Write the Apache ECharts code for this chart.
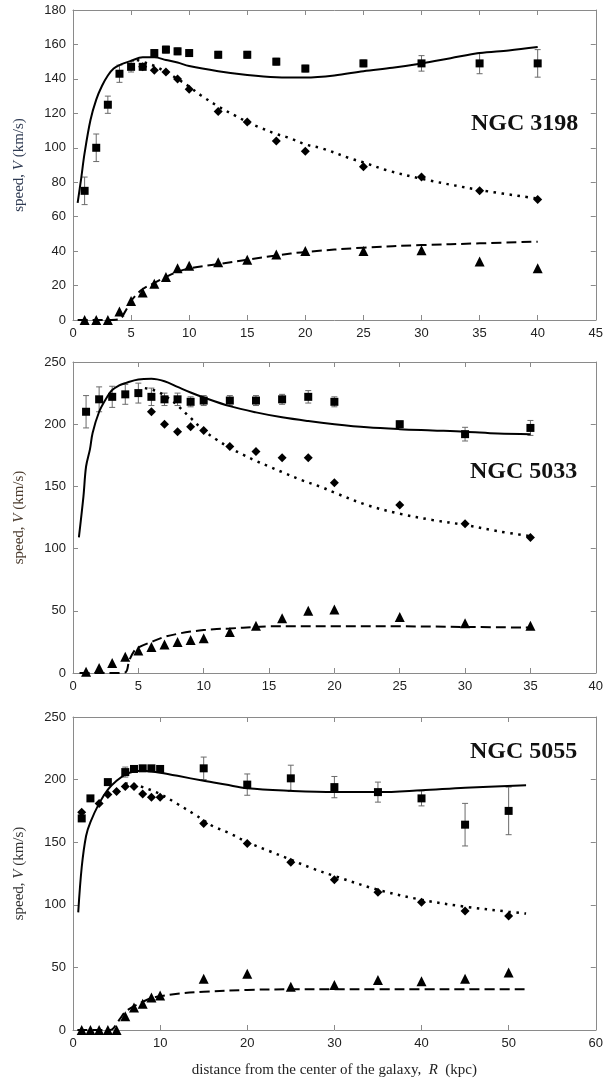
<!DOCTYPE html>
<html>
<head>
<meta charset="utf-8">
<script src="https://cdn.jsdelivr.net/npm/echarts@6/dist/echarts.min.js"></script>
<style>html,body{margin:0;padding:0;background:#fff}#c{width:606px;height:1092px}</style>
</head>
<body>
<div id="c"></div>
<script>
// ---------- NGC 3198 ----------
const obsR1 = [1,2,3,4,5,6,7,8,9,10,12.5,15,17.5,20,25,30,35,40];
const obsV1 = [75,100,125,143,147,147,155,157,156,155,154,154,150,146,149,149,149,149];
const obsE1 = [8,8,5,5,3,0,2,2,2,2,2,2,2,2,2,4.5,6,8];
const diamR1 = [6,7,8,9,10,12.5,15,17.5,20,25,30,35,40];
const diamV1 = [147,145,144,140,134,121,115,104,98,89,83,75,70];
const triR1 = [1,2,3,4,5,6,7,8,9,10,12.5,15,17.5,20,25,30,35,40];
const triV1 = [0,0,0,5,11,16,21,25,30,31.5,33.5,35,38,40,40,40.5,34,30];
const totR1 = [0.4,0.7,1,1.5,2,2.5,3,3.5,4,5,6,7,8,9,10,12.5,15,17.5,20,22.5,25,27.5,30,32.5,35,37.5,40];
const totV1 = [68,82,97,116,128,136,142,146,148,150.5,152.5,152.5,151,149.5,147.5,144.5,142.3,141,140.8,142,144.5,146.5,149,152,155,156.5,158.5];
const diskR1 = [5.5,6,7,8,9,10,11,12.5,14,15,16,17.5,18.5,20,21.5,24,25,27,30,35,40];
const diskV1 = [151,150,147.5,144,140,135.5,130.5,124,118.5,115,112,108,106,102,99.5,93.5,91.5,87,82,75.5,70.5];
const gasR1 = [0.4,1,2,3,4,4.5,5,5.5,6,7,8,9,10,12.5,15,17.5,20,25,30,35,40];
const gasV1 = [0,0,0,0,0.5,5,11,15,18,21.5,25,28,30,32.5,35,37.5,39.5,42,43.5,44.5,45.5];

// ---------- NGC 5033 ----------
const obsR2 = [1,2,3,4,5,6,7,8,9,10,12,14,16,18,20,25,30,35];
const obsV2 = [210,220,222,224,225,222,220,220,218,219,219,219,220,222,218,200,192,197];
const obsE2 = [13,10,8.5,8,8,7,5,5,4,4,4,4,4,5,4,2.5,5.5,6];
const diamR2 = [6,7,8,9,10,12,14,16,18,20,25,30,35];
const diamV2 = [210,200,194,198,195,182,178,173,173,153,135,120,109];
const triR2 = [1,2,3,4,5,6,7,8,9,10,12,14,16,18,20,25,30,35];
const triV2 = [1,4,8,13,18,21,23,25,26.5,28,33,38,44,50,51,45,40,38];
const totR2 = [0.45,0.8,1,1.3,1.5,2,2.5,3,3.5,4,5,6,7,8,9,10,12,14,16,18,20,22.5,25,27.5,30,32.5,35];
const totV2 = [109,142,166,180,193,210,220,227.5,231,233,236,236.5,234.5,230,225.5,221.5,214.5,209.5,205.5,202.5,200,197.5,196,195,194,192.5,192];
const diskR2 = [5.5,6,6.5,7,7.5,8,9,10,11,12,13,14,15,16,17.5,19,20,22.5,25,27.5,30,32.5,35];
const diskV2 = [229,228,226,223,219.5,215,205,195,187.5,181,175.5,170.5,166,161.5,155,149.5,145,135,128,123,119,114,110];
const gasR2 = [0.5,1,2,3,4,4.3,4.7,5,6,7,8,9,10,11,12,14,15,20,25,30,35];
const gasV2 = [0,0,0,0,0.5,10,18,20.5,25,29,31.5,33.3,34.5,35.3,35.8,37,37.5,37.5,37.5,37,36.5];

// ---------- NGC 5055 ----------
const obsR3 = [1,2,4,6,7,8,9,10,15,20,25,30,35,40,45,50];
const obsV3 = [169,185,198,206,208.5,209,209,208.5,209,196,201,194,190,185,164,175];
const obsE3 = [0,0,0,4,2,2,2,2,9,8.5,10.5,8.5,8,6,17,19];
const diamR3 = [1,3,4,5,6,7,8,9,10,15,20,25,30,35,40,45,50];
const diamV3 = [174,181,188,190.5,194.5,194.5,188.5,186,186,165,149,134,120,110,102,95,91];
const triR3 = [1,2,3,4,5,6,7,8,9,10,15,20,25,30,35,40,45,50];
const triV3 = [0,0,0,0,0,11,18,21,26,27.5,41,45,34.5,36,40,39,41,46];
const totR3 = [0.6,1,1.5,2,3,4,5,6,7,8,9,10,12,15,17.5,20,25,30,35,40,45,52];
const totV3 = [94,130,155,166,181,192,199,204,206.5,207,206.5,205.5,203,199,196,193,191,190,190,191.5,193.5,195.5];
const diskR3 = [6,7,8,9,10,12,14,15,16,18,20,22.5,25,27.5,30,35,40,45,50,52];
const diskV3 = [197,196,194,191.5,188.5,180.5,172,167.5,163,157,150,143,136,129,123,112,104,98.5,94.5,93];
const gasR3 = [0.5,1,2,3,4,4.5,5,5.5,6,7,8,9,10,12,15,20,25,30,35,40,45,52];
const gasV3 = [0,0,0,0,0,0.5,5,10,14.5,19,22.5,25.5,27,29,30.5,32,32.5,32.5,32.5,32.5,32.5,32.5];

const galaxyNames = ['NGC 3198','NGC 5033','NGC 5055'];
const xMax = [45,40,60], xStep = [5,5,10];
const yMax = [180,250,250], yStep = [20,50,50];

const zip = (a,b) => a.map((v,i)=>[v,b[i]]);
const grids = [
  {left:73, right:9, top:10, height:310},
  {left:73, right:9, top:362, height:311},
  {left:73, right:9, top:717, height:313}
];
const axisCol = '#8a8a8a';
const labelStyle = {color:'#222', fontFamily:'Arial', fontSize:13};
const yNameColors = ['#2e3a52','#4a3a2c','#333'];

const xAxes = [], yAxes = [];
grids.forEach((g,i)=>{
  xAxes.push({gridIndex:i, type:'value', min:0, max:xMax[i], interval:xStep[i], position:'bottom',
    axisLine:{show:true, onZero:false, lineStyle:{color:axisCol}},
    axisTick:{show:true, inside:true, length:5, lineStyle:{color:axisCol}},
    axisLabel:Object.assign({margin:7}, labelStyle), splitLine:{show:false},
    name: i===2 ? '{n|distance from the center of the galaxy,  }{i|R}{n|  (kpc)}' : '',
    nameLocation:'middle', nameGap:33,
    nameTextStyle:{rich:{n:{fontFamily:'Liberation Serif', fontSize:15, color:'#222'}, i:{fontFamily:'Liberation Serif', fontStyle:'italic', fontSize:15, color:'#222'}}}
  });
  xAxes.push({gridIndex:i, type:'value', min:0, max:xMax[i], interval:xStep[i], position:'top',
    axisLine:{show:true, onZero:false, lineStyle:{color:axisCol}},
    axisTick:{show:true, inside:true, length:5, lineStyle:{color:axisCol}},
    axisLabel:{show:false}, splitLine:{show:false}});
  yAxes.push({gridIndex:i, type:'value', min:0, max:yMax[i], interval:yStep[i], position:'left',
    axisLine:{show:true, onZero:false, lineStyle:{color:axisCol}},
    axisTick:{show:true, inside:true, length:5, lineStyle:{color:axisCol}},
    axisLabel:Object.assign({margin:7}, labelStyle), splitLine:{show:false},
    name:'{n|speed, }{i|V}{n| (km/s)}', nameLocation:'middle', nameGap:46, nameRotate:90,
    nameTextStyle:{rich:{n:{fontFamily:'Liberation Serif', fontSize:15, color:yNameColors[i]}, i:{fontFamily:'Liberation Serif', fontStyle:'italic', fontSize:15, color:yNameColors[i]}}}
  });
  yAxes.push({gridIndex:i, type:'value', min:0, max:yMax[i], interval:yStep[i], position:'right',
    axisLine:{show:true, onZero:false, lineStyle:{color:axisCol}},
    axisTick:{show:true, inside:true, length:5, lineStyle:{color:axisCol}},
    axisLabel:{show:false}, splitLine:{show:false}});
});

function errSeries(ai, R, V, E) {
  const data = [];
  R.forEach((r,i)=>{ if (E[i] > 0) data.push([r, V[i]-E[i], V[i]+E[i]]); });
  return {type:'custom', xAxisIndex:ai*2, yAxisIndex:ai*2, z:2, silent:true,
    data, encode:{x:0, y:[1,2]},
    renderItem:(params, api)=>{
      const lo = api.coord([api.value(0), api.value(1)]);
      const hi = api.coord([api.value(0), api.value(2)]);
      const w = 3, st = {stroke:'#6a6a6a', lineWidth:1};
      return {type:'group', children:[
        {type:'line', shape:{x1:lo[0], y1:lo[1], x2:hi[0], y2:hi[1]}, style:st},
        {type:'line', shape:{x1:lo[0]-w, y1:lo[1], x2:lo[0]+w, y2:lo[1]}, style:st},
        {type:'line', shape:{x1:hi[0]-w, y1:hi[1], x2:hi[0]+w, y2:hi[1]}, style:st}
      ]};
    }};
}
function lineSeries(ai, R, V, type, width) {
  return {type:'line', xAxisIndex:ai*2, yAxisIndex:ai*2, data:zip(R,V), showSymbol:false, symbol:'none',
    smooth:0.35, z:3, lineStyle:{color:'#000', width:width, type:type}};
}
function scatter(ai, R, V, symbol, size) {
  return {type:'scatter', xAxisIndex:ai*2, yAxisIndex:ai*2, data:zip(R,V), symbol, symbolSize:size, z:4,
    itemStyle:{color:'#000', opacity:1}};
}
const panels = [
  [obsR1,obsV1,obsE1,diamR1,diamV1,triR1,triV1,totR1,totV1,diskR1,diskV1,gasR1,gasV1],
  [obsR2,obsV2,obsE2,diamR2,diamV2,triR2,triV2,totR2,totV2,diskR2,diskV2,gasR2,gasV2],
  [obsR3,obsV3,obsE3,diamR3,diamV3,triR3,triV3,totR3,totV3,diskR3,diskV3,gasR3,gasV3]
];
const series = [];
panels.forEach((p,i)=>{
  series.push(lineSeries(i, p[7], p[8], 'solid', 2));
  series.push(lineSeries(i, p[9], p[10], [2.5,5.5], 2.5));
  series.push(lineSeries(i, p[11], p[12], [10,5], 2));
  series.push(errSeries(i, p[0], p[1], p[2]));
  series.push(scatter(i, p[0], p[1], 'rect', 8));
  series.push(scatter(i, p[3], p[4], 'diamond', 9));
  series.push(scatter(i, p[5], p[6], 'triangle', 10));
});

const titleTops = [112, 460, 740];
const titleLefts = [471, 470, 470];
const chart = echarts.init(document.getElementById('c'), null, {renderer:'canvas', width:606, height:1092});
chart.setOption({
  backgroundColor:'#fff',
  animation:false,
  title: galaxyNames.map((n,i)=>({text:n, left:titleLefts[i], top:titleTops[i], padding:0,
    textStyle:{fontFamily:'Liberation Serif', fontWeight:'bold', fontSize:24, color:'#111'}})),
  grid: grids,
  xAxis: xAxes,
  yAxis: yAxes,
  series
});
</script>
</body>
</html>
